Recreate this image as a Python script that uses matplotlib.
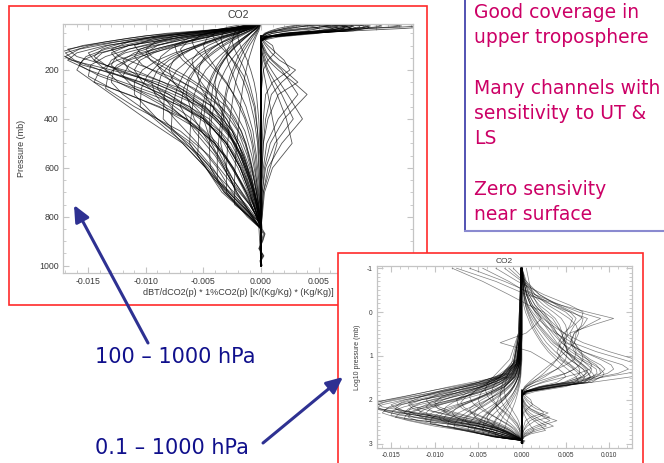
import numpy as np
import matplotlib
matplotlib.use('Agg')
import matplotlib.pyplot as plt
from matplotlib.patches import Rectangle, FancyArrowPatch
from matplotlib.lines import Line2D
from matplotlib.ticker import MultipleLocator, FormatStrFormatter

plt.rcParams['axes.unicode_minus'] = False
plt.rcParams['font.family'] = ['Liberation Sans', 'DejaVu Sans']

# --- data (pressure in mb, sensitivities in units of 1e-3) ---
# tropospheric channels, negative sensitivity
neg_p = [0.1, 3, 15, 30, 50, 70, 100, 130, 160, 200, 250, 300, 400, 500, 600, 700, 800, 850, 1000]
neg_curves = [
    [-0.1, -0.2, -0.7, -2.6, -8.2, -11.5, -15.5, -17.6, -16.5, -13.0, -9.0, -6.5, -3.5, -2.0, -1.2, -0.6, -0.2, 0, 0],
    [-0.1, -0.2, -0.6, -2.2, -7.0, -10.5, -14.8, -17.0, -16.2, -14.0, -10.5, -8.0, -4.5, -2.6, -1.5, -0.8, -0.3, 0, 0],
    [-0.1, -0.2, -0.5, -1.8, -5.5, -9.0, -13.5, -16.0, -16.8, -15.0, -12.0, -9.0, -5.0, -3.0, -1.8, -1.0, -0.3, 0, 0],
    [-0.1, -0.2, -0.5, -1.5, -4.5, -7.5, -11.5, -14.0, -15.5, -16.0, -14.5, -11.5, -6.5, -4.0, -2.4, -1.3, -0.4, 0, 0],
    [-0.1, -0.2, -0.4, -1.2, -3.0, -5.0, -8.0, -10.5, -12.5, -14.0, -14.5, -13.0, -10.0, -6.8, -4.8, -3.4, -1.0, 0, 0],
    [-0.1, -0.2, -0.4, -1.0, -2.5, -4.2, -7.0, -9.5, -11.5, -12.8, -13.0, -12.0, -9.0, -6.0, -4.2, -2.8, -0.8, 0, 0],
    [-0.1, -0.2, -0.3, -0.8, -2.0, -3.5, -5.5, -7.5, -9.0, -10.3, -11.0, -11.0, -9.0, -6.3, -4.4, -3.0, -0.9, 0, 0],
    [-0.1, -0.1, -0.3, -0.6, -1.5, -2.5, -4.0, -5.2, -6.3, -7.3, -8.0, -8.4, -8.5, -6.5, -4.6, -3.1, -1.0, 0, 0],
    [-0.1, -0.1, -0.2, -0.4, -1.0, -1.6, -2.5, -3.3, -4.0, -4.8, -5.4, -5.8, -6.1, -6.2, -4.8, -3.2, -1.0, 0, 0],
    [0, -0.1, -0.1, -0.3, -0.6, -1.0, -1.6, -2.1, -2.6, -3.1, -3.6, -3.9, -4.3, -4.5, -4.4, -3.2, -1.1, 0, 0],
    [0, 0, -0.1, -0.2, -0.4, -0.6, -1.0, -1.3, -1.6, -1.9, -2.2, -2.4, -2.7, -2.9, -3.0, -3.0, -1.2, 0, 0],
    [-0.1, -0.2, -0.6, -2.0, -5.5, -8.5, -11.5, -13.0, -12.5, -11.0, -8.5, -6.5, -3.8, -2.2, -1.3, -0.7, -0.2, 0, 0],
    [-0.1, -0.2, -0.6, -1.8, -4.5, -6.8, -9.0, -10.0, -9.6, -8.5, -6.8, -5.2, -3.0, -1.8, -1.0, -0.5, -0.2, 0, 0],
    [-0.1, -0.3, -0.9, -2.5, -4.8, -6.3, -7.5, -7.3, -6.8, -5.8, -4.6, -3.6, -2.2, -1.3, -0.8, -0.4, -0.1, 0, 0],
    [-0.1, -0.3, -1.0, -2.6, -4.0, -4.7, -5.0, -4.8, -4.4, -3.8, -3.0, -2.4, -1.4, -0.8, -0.5, -0.3, -0.1, 0, 0],
    [-0.1, -0.4, -1.2, -2.5, -3.3, -3.5, -3.3, -2.9, -2.5, -2.0, -1.5, -1.1, -0.6, -0.3, -0.2, -0.1, 0, 0, 0],
    [-0.1, -0.2, -0.4, -1.4, -3.8, -6.2, -9.0, -11.0, -12.0, -11.5, -9.8, -8.0, -5.0, -3.0, -1.8, -1.0, -0.3, 0, 0],
    [-0.1, -0.2, -0.4, -1.1, -3.0, -5.0, -7.5, -9.3, -10.5, -11.0, -10.3, -9.0, -6.0, -3.8, -2.4, -1.3, -0.4, 0, 0],
    [-0.1, -0.1, -0.3, -0.9, -2.3, -3.8, -5.5, -6.8, -7.6, -8.0, -7.6, -6.7, -4.8, -3.2, -2.0, -1.1, -0.3, 0, 0],
    [-0.1, -0.1, -0.3, -0.8, -2.0, -3.4, -5.2, -6.8, -8.0, -9.0, -9.5, -9.2, -7.5, -5.5, -3.8, -2.5, -0.8, 0, 0],
    [-0.1, -0.1, -0.3, -0.8, -2.0, -3.2, -4.6, -5.5, -6.0, -5.8, -5.2, -4.4, -3.0, -2.0, -1.2, -0.6, -0.2, 0, 0],
    [0, -0.1, -0.2, -0.5, -1.3, -2.1, -3.2, -4.1, -4.9, -5.7, -6.3, -6.5, -5.8, -4.5, -3.2, -2.1, -0.7, 0, 0],
    [-0.1, -0.2, -0.6, -2.3, -6.5, -9.8, -13.3, -15.0, -14.5, -12.5, -9.5, -7.0, -4.0, -2.3, -1.4, -0.7, -0.2, 0, 0],
    [-0.1, -0.2, -0.4, -1.3, -3.6, -6.0, -9.3, -11.8, -13.0, -13.5, -12.4, -10.3, -6.5, -4.0, -2.5, -1.4, -0.4, 0, 0],
    [-0.1, -0.2, -0.5, -1.6, -4.6, -7.6, -11.5, -13.8, -14.5, -13.5, -11.0, -8.5, -5.0, -3.0, -1.8, -1.0, -0.3, 0, 0],
    [-0.1, -0.3, -0.9, -3.0, -6.5, -9.3, -11.0, -10.5, -9.5, -8.0, -6.0, -4.5, -2.5, -1.4, -0.8, -0.4, -0.1, 0, 0],
    [0, -0.1, -0.2, -0.4, -0.9, -1.4, -2.1, -2.8, -3.3, -3.9, -4.4, -4.7, -5.0, -4.3, -3.2, -2.1, -0.7, 0, 0],
    [0, -0.1, -0.2, -0.4, -0.9, -1.4, -2.1, -2.7, -3.2, -3.7, -4.0, -3.9, -3.2, -2.4, -1.6, -0.9, -0.3, 0, 0],
    [-0.1, -0.4, -1.0, -1.7, -2.0, -2.0, -1.8, -1.5, -1.2, -0.9, -0.6, -0.4, -0.2, -0.1, 0, 0, 0, 0, 0],
    [0, 0, -0.1, -0.2, -0.5, -0.8, -1.2, -1.6, -1.9, -2.3, -2.7, -3.0, -3.3, -3.5, -3.0, -2.2, -0.8, 0, 0],
]

# more tropospheric channels, on offset levels
neg2_p = [0.1, 3, 12, 25, 40, 60, 85, 115, 145, 180, 225, 275, 350, 450, 550, 650, 750, 830, 1000]
neg2_curves = [
    [-0.1, -0.2, -0.5, -1.8, -5.0, -10.0, -13.5, -16.8, -16.0, -13.5, -10.0, -7.0, -4.2, -2.5, -1.5, -0.8, -0.3, 0, 0],
    [-0.1, -0.2, -0.4, -1.4, -4.0, -8.5, -12.5, -15.8, -17.0, -15.5, -12.0, -8.8, -5.2, -3.0, -1.8, -1.0, -0.4, 0, 0],
    [-0.1, -0.2, -0.4, -1.2, -3.2, -7.0, -10.5, -13.5, -15.2, -15.8, -14.0, -11.0, -6.8, -3.8, -2.3, -1.3, -0.5, 0, 0],
    [-0.1, -0.1, -0.3, -1.0, -2.6, -5.5, -8.5, -11.5, -13.5, -14.8, -15.0, -13.0, -8.8, -5.2, -3.2, -1.9, -0.7, 0, 0],
    [-0.1, -0.1, -0.3, -0.8, -2.0, -4.2, -6.8, -9.2, -11.0, -12.5, -13.3, -13.5, -11.0, -7.0, -4.5, -2.8, -1.0, 0, 0],
    [0, -0.1, -0.2, -0.6, -1.5, -3.0, -4.8, -6.5, -7.8, -9.0, -9.9, -10.4, -10.5, -8.0, -5.3, -3.4, -1.3, 0, 0],
    [0, -0.1, -0.2, -0.5, -1.1, -2.1, -3.3, -4.4, -5.3, -6.1, -6.8, -7.3, -7.7, -7.8, -5.8, -3.8, -1.5, 0, 0],
    [0, 0, -0.1, -0.3, -0.7, -1.3, -2.0, -2.7, -3.3, -3.8, -4.3, -4.7, -5.1, -5.4, -5.5, -4.0, -1.7, 0, 0],
    [0, 0, -0.1, -0.2, -0.4, -0.8, -1.2, -1.6, -2.0, -2.3, -2.7, -3.0, -3.3, -3.6, -3.8, -3.8, -1.8, 0, 0],
    [0, 0, 0, -0.1, -0.2, -0.4, -0.6, -0.8, -1.0, -1.2, -1.4, -1.6, -1.8, -2.0, -2.2, -2.3, -2.3, -0.2, 0],
    [-0.1, -0.2, -0.6, -2.0, -5.0, -9.0, -11.5, -13.0, -12.3, -10.5, -8.0, -5.8, -3.5, -2.0, -1.2, -0.6, -0.2, 0, 0],
    [-0.1, -0.2, -0.5, -1.5, -3.6, -6.6, -8.8, -10.5, -11.0, -10.3, -8.5, -6.6, -4.2, -2.5, -1.5, -0.8, -0.3, 0, 0],
    [-0.1, -0.1, -0.4, -1.1, -2.6, -4.8, -6.5, -7.9, -8.7, -9.0, -8.3, -7.0, -4.8, -2.9, -1.7, -0.9, -0.3, 0, 0],
    [-0.1, -0.1, -0.3, -0.9, -2.3, -4.4, -6.6, -8.8, -10.4, -11.5, -12.0, -11.0, -8.0, -5.0, -3.1, -1.8, -0.6, 0, 0],
    [-0.1, -0.3, -0.9, -2.2, -3.8, -5.3, -6.0, -5.7, -5.1, -4.4, -3.5, -2.7, -1.7, -0.9, -0.5, -0.3, -0.1, 0, 0],
    [-0.1, -0.2, -0.7, -1.8, -3.4, -5.2, -6.4, -7.0, -6.7, -6.0, -4.9, -3.9, -2.5, -1.4, -0.8, -0.4, -0.1, 0, 0],
    [0, -0.1, -0.2, -0.6, -1.4, -2.4, -3.4, -4.3, -4.9, -5.3, -5.5, -5.2, -4.2, -2.9, -1.8, -1.0, -0.3, 0, 0],
    [0, -0.1, -0.2, -0.4, -1.0, -1.9, -2.9, -3.9, -4.7, -5.5, -6.2, -6.7, -7.0, -5.8, -4.0, -2.6, -1.0, 0, 0],
    [-0.1, -0.2, -0.5, -1.0, -1.6, -2.2, -2.6, -2.9, -3.0, -2.8, -2.4, -2.0, -1.3, -0.7, -0.4, -0.2, -0.1, 0, 0],
    [0, -0.1, -0.3, -0.7, -1.7, -3.1, -4.6, -6.0, -7.1, -8.0, -8.7, -9.0, -7.8, -5.5, -3.7, -2.4, -0.9, 0, 0],
    [-0.1, -0.4, -1.4, -2.9, -3.9, -4.2, -3.9, -3.3, -2.7, -2.1, -1.5, -1.1, -0.6, -0.3, -0.2, -0.1, 0, 0, 0],
    [-0.1, -0.2, -0.4, -1.2, -3.0, -6.0, -9.0, -11.5, -12.6, -13.0, -12.0, -9.8, -6.2, -3.6, -2.2, -1.2, -0.4, 0, 0],
    [-0.1, -0.2, -0.5, -1.6, -4.2, -8.3, -11.7, -13.8, -14.5, -13.5, -10.8, -8.2, -4.9, -2.8, -1.7, -0.9, -0.3, 0, 0],
    [-0.1, -0.2, -0.6, -1.9, -4.3, -7.3, -9.2, -10.0, -9.5, -8.3, -6.5, -4.9, -3.0, -1.7, -1.0, -0.5, -0.2, 0, 0],
    [0, -0.1, -0.1, -0.3, -0.7, -1.2, -1.9, -2.5, -3.0, -3.5, -3.9, -4.2, -4.4, -4.5, -3.5, -2.4, -1.0, 0, 0],
    [-0.1, -0.3, -0.8, -1.6, -2.2, -2.4, -2.5, -2.3, -2.0, -1.6, -1.2, -0.9, -0.5, -0.3, -0.1, 0, 0, 0, 0],
]

# stratospheric channels, mostly positive
strat_p = [0.1, 0.2, 0.4, 0.7, 1.0, 1.4, 2, 3, 5, 8, 12, 16, 20, 25, 30, 40, 50, 65, 80, 100, 1000]
strat_curves = [
    [-7.5, -3.0, 0.5, 4.5, 7.5, 10.5, 8.0, 5.5, 4.5, 4.0, 4.5, 5.5, 6.0, 5.0, 3.5, 1.5, 0.5, 0, 0, 0, 0],
    [0.5, 0.8, 1.2, 1.8, 2.5, 3.0, 3.5, 4.0, 5.0, 7.0, 9.5, 11.5, 12.2, 11.0, 9.0, 8.0, 4.0, 0.5, 0, 0, 0],
    [0, 0.1, 0.3, 0.6, 1.0, 1.5, 2.0, 2.8, 3.8, 5.0, 6.2, 7.0, 7.6, 8.1, 8.3, 7.5, 4.5, 0.8, 0, 0, 0],
    [0, 0.1, 0.2, 0.5, 0.8, 1.2, 1.7, 2.4, 3.3, 4.5, 5.5, 6.3, 7.0, 7.6, 7.9, 7.2, 4.2, 0.7, 0, 0, 0],
    [-3.0, -0.5, 2.5, 5.5, 7.0, 6.8, 6.0, 5.5, 5.8, 6.2, 6.0, 5.0, 4.0, 3.0, 2.2, 1.0, 0.4, 0, 0, 0, 0],
    [-6.0, -2.0, 1.5, 4.5, 6.5, 9.0, 7.5, 6.0, 5.5, 6.5, 7.5, 8.0, 7.8, 6.5, 5.0, 2.5, 1.0, 0.1, 0, 0, 0],
    [0, 0.3, 0.8, 1.5, 2.2, 2.8, 3.3, 4.0, 5.2, 7.0, 9.0, 10.2, 10.5, 9.8, 8.4, 6.0, 2.6, 0.4, 0, 0, 0],
    [0, 0.2, 0.5, 1.0, 1.6, 2.2, 2.8, 3.5, 4.5, 6.0, 7.5, 8.5, 8.9, 9.0, 8.5, 7.0, 3.5, 0.5, 0, 0, 0],
    [0, 0.3, 0.8, 1.5, 2.2, 3.0, 3.8, 4.8, 6.0, 6.8, 7.0, 6.6, 6.0, 5.0, 4.0, 2.2, 1.0, 0.1, 0, 0, 0],
    [-8.0, -4.5, -1.5, 0.8, 2.5, 3.5, 4.0, 4.5, 5.0, 5.2, 5.0, 4.5, 4.0, 3.2, 2.6, 1.4, 0.6, 0, 0, 0, 0],
    [0, 0.5, 1.5, 3.0, 4.3, 5.4, 6.2, 6.5, 6.0, 5.0, 4.0, 3.2, 2.6, 2.0, 1.5, 0.8, 0.3, 0, 0, 0, 0],
    [0, 0, 0.1, 0.2, 0.4, 0.7, 1.0, 1.5, 2.2, 3.0, 3.9, 4.6, 5.2, 5.8, 6.2, 6.5, 5.0, 1.5, 0, 0, 0],
    [0, 0.1, 0.2, 0.4, 0.7, 1.0, 1.4, 2.0, 2.8, 3.8, 4.8, 5.6, 6.2, 6.8, 7.2, 6.8, 4.2, 1.0, 0, 0, 0],
    [0, 0.1, 0.3, 0.6, 1.0, 1.4, 1.9, 2.6, 3.6, 5.0, 6.6, 7.8, 8.5, 8.6, 8.0, 6.5, 3.0, 0.4, 0, 0, 0],
    [0, 0.2, 0.5, 1.0, 1.6, 2.4, 3.4, 4.8, 7.0, 10.0, 13.0, 14.5, 14.0, 12.0, 9.5, 6.0, 2.0, 0.3, 0, 0, 0],
    [0, 0.1, 0.3, 0.7, 1.2, 1.8, 2.6, 3.8, 5.8, 8.5, 11.5, 13.5, 14.5, 14.0, 12.5, 8.0, 3.5, 0.5, 0, 0, 0],
    [0, 0.2, 0.6, 1.2, 1.8, 2.2, 1.5, 0.5, -2.5, 1.0, 2.5, 3.5, 4.2, 4.8, 5.0, 4.0, 2.0, 0.2, 0, 0, 0],
    [-1.0, 0.5, 2.0, 4.0, 5.5, 6.2, 5.8, 4.8, 4.2, 4.6, 5.4, 6.4, 7.0, 7.3, 7.0, 5.0, 2.2, 0.3, 0, 0, 0],
    [0, 0.2, 0.5, 1.0, 1.5, 2.0, 2.6, 3.2, 4.0, 5.0, 6.0, 6.8, 7.3, 7.6, 7.8, 7.0, 4.0, 0.6, 0, 0, 0],
    [-2.0, 0, 1.5, 3.5, 5.0, 5.8, 5.5, 5.0, 4.8, 5.3, 6.2, 7.0, 7.5, 7.4, 6.8, 5.0, 2.4, 0.3, 0, 0, 0],
    [0, 0.3, 1.0, 2.0, 3.0, 3.8, 4.3, 4.6, 4.8, 5.2, 5.8, 6.3, 6.6, 6.6, 6.2, 4.8, 2.4, 0.3, 0, 0, 0],
    [-4.5, -1.5, 1.0, 3.5, 5.5, 7.5, 7.0, 6.0, 5.6, 6.0, 6.8, 7.5, 8.0, 7.8, 7.2, 5.5, 2.8, 0.4, 0, 0, 0],
    [0, 0.1, 0.2, 0.4, 0.6, 0.9, 1.2, 1.7, 2.4, 3.3, 4.3, 5.2, 5.9, 6.5, 6.8, 6.0, 3.6, 0.6, 0, 0, 0],
    [0, 0.4, 1.2, 2.5, 3.6, 4.5, 5.0, 5.2, 5.0, 4.5, 4.0, 3.5, 3.0, 2.5, 2.0, 1.2, 0.5, 0, 0, 0, 0],
    [0, 0.2, 0.6, 1.2, 1.9, 2.6, 3.2, 3.8, 4.6, 5.6, 7.0, 8.2, 9.0, 9.4, 9.2, 7.5, 4.0, 0.6, 0, 0, 0],
    [-1.5, 0.2, 2.0, 4.2, 5.8, 7.0, 6.8, 6.2, 6.0, 6.6, 7.8, 9.0, 9.5, 9.0, 8.0, 5.5, 2.5, 0.3, 0, 0, 0],
]

# small positive zig-zag channels in the troposphere
zig_p = [60, 80, 100, 130, 160, 200, 250, 300, 400, 500, 600, 700, 850, 1000]
zig_curves = [
    [0, 0, 0.1, 0.3, 0.6, 1.5, 2.8, 4.0, 2.0, 0.8, 0.3, 0.1, 0, 0],
    [0, 0, 0.1, 0.2, 0.4, 0.9, 1.6, 2.3, 3.6, 1.8, 0.6, 0.2, 0, 0],
    [0, 0.2, 0.6, 1.3, 2.0, 2.5, 1.0, 0.4, 0.2, 0.1, 0, 0, 0, 0],
    [0, 0, 0, 0.1, 0.2, 0.5, 0.9, 1.4, 2.2, 2.7, 1.0, 0.3, 0, 0],
    [0, 0.4, 1.0, 1.2, 0.6, 0.2, 0.1, 0, 0, 0, 0, 0, 0, 0],
    [0, 0, 0.2, 0.5, 1.0, 2.0, 3.2, 1.5, 0.6, 0.2, 0.1, 0, 0, 0],
    [0, 0, 0, 0, 0.1, 0.2, 0.4, 0.6, 1.0, 1.4, 0.8, 0.2, 0, 0],
    [0, 0.1, 0.4, 0.9, 1.6, 3.0, 1.8, 0.9, 0.4, 0.2, 0.1, 0, 0, 0],
    [0, 0, 0.1, 0.4, 0.9, 1.8, 2.5, 3.2, 1.5, 0.5, 0.2, 0, 0, 0],
    [0, 0, 0, 0.1, 0.3, 0.6, 1.2, 1.8, 2.8, 1.2, 0.4, 0.1, 0, 0],
]

# near-surface wiggles
sfc_p = [800, 850, 870, 900, 930, 960, 980, 1000]
sfc_curves = [
    [0, 0, 0.3, 0.1, -0.2, 0.2, -0.1, 0],
    [0, 0.1, 0.35, 0.15, -0.15, 0.25, 0.0, 0.1],
    [0, -0.05, 0.2, 0.05, -0.1, 0.15, -0.05, 0],
]

x_ticks = [-0.015, -0.010, -0.005, 0.000, 0.005, 0.010]
left_yticks = [200, 400, 600, 800, 1000]
right_yticks = [-1, 0, 1, 2, 3]

notes = ["Good coverage in", "upper troposphere", "",
         "Many channels with", "sensitivity to UT &", "LS", "",
         "Zero sensivity", "near surface"]
range_labels = ["100 \u2013 1000 hPa", "0.1 \u2013 1000 hPa"]

groups = [(neg_p, neg_curves), (neg2_p, neg2_curves), (strat_p, strat_curves),
          (zig_p, zig_curves), (sfc_p, sfc_curves)]

# --- figure, laid out in pixels of the 664x463 slide ---
W, H = 664, 463
fig = plt.figure(figsize=(W / 100, H / 100), dpi=100)


def box(x0, y0, x1, y1):
    return [x0 / W, 1 - y1 / H, (x1 - x0) / W, (y1 - y0) / H]


def pt(x, y):
    return (x / W, 1 - y / H)


def frame(x0, y0, x1, y1, z):
    l, b, w, h = box(x0, y0, x1, y1)
    fig.add_artist(Rectangle((l, b), w, h, transform=fig.transFigure, facecolor='white',
                             edgecolor='#ff2a2a', lw=1.2, zorder=z))


def style_axes(ax, fs, xminor, yminor):
    for s in ax.spines.values():
        s.set_color('#c4c4c4')
        s.set_linewidth(0.9)
    ax.set_xticks(x_ticks)
    ax.xaxis.set_major_formatter(FormatStrFormatter('%.3f'))
    ax.xaxis.set_minor_locator(MultipleLocator(xminor))
    ax.yaxis.set_minor_locator(MultipleLocator(yminor))
    ax.tick_params(which='both', direction='in', top=True, right=True,
                   colors='#c4c4c4', labelcolor='#3a3a3a', labelsize=fs, pad=3)
    ax.tick_params(which='major', length=4, width=0.8)
    ax.tick_params(which='minor', length=2, width=0.6)


# left panel: linear pressure
frame(9, 6, 427, 305, 0.1)
ax1 = fig.add_axes(box(63, 24, 413, 273))
ax1.set_zorder(0.5)
for p, curves in groups:
    for c in curves:
        ax1.plot(np.array(c) * 1e-3, p, color='k', lw=0.6, alpha=0.68)
ax1.set_xlim(-0.0172, 0.0132)
ax1.set_ylim(1030, 12)
ax1.set_yticks(left_yticks)
style_axes(ax1, 6.3, 0.001, 50)
ax1.set_title('CO2', fontsize=7.5, color='#3a3a3a', pad=4)
ax1.set_ylabel('Pressure (mb)', fontsize=6.5, color='#3a3a3a')
ax1.yaxis.set_label_coords(-0.105, 0.5)
ax1.set_xlabel('dBT/dCO2(p) * 1%CO2(p) [K/(Kg/Kg) * (Kg/Kg)]', fontsize=6.5,
               color='#3a3a3a', labelpad=1)

# right panel: log10 pressure
frame(338, 253, 643, 480, 1)
ax2 = fig.add_axes(box(377, 266, 632, 448))
ax2.set_zorder(2)
for p, curves in groups:
    for c in curves:
        ax2.plot(np.array(c) * 1e-3, np.log10(p), color='k', lw=0.5, alpha=0.5)
ax2.set_xlim(-0.0166, 0.0126)
ax2.set_ylim(3.1, -1.05)
ax2.set_yticks(right_yticks)
style_axes(ax2, 4.8, 0.001, 0.1)
ax2.set_title('CO2', fontsize=6, color='#3a3a3a', pad=2)
ax2.set_ylabel('Log10 pressure (mb)', fontsize=5, color='#3a3a3a', labelpad=4)

# notes box on the right
fig.add_artist(Line2D([465 / W, 465 / W], [1.01, 1 - 231 / H], transform=fig.transFigure,
                      color='#3535a5', lw=1.2, zorder=3))
fig.add_artist(Line2D([465 / W, 1.0], [1 - 231 / H, 1 - 231 / H], transform=fig.transFigure,
                      color='#8a8ad0', lw=1.5, zorder=3))
for i, line in enumerate(notes):
    fig.text(474 / W, 1 - (18 + 25.3 * i) / H, line, fontsize=13.5, color='#cc0066',
             family='DejaVu Sans', va='baseline', ha='left', zorder=4)

# range labels and arrows
fig.text(95 / W, 1 - 363 / H, range_labels[0], fontsize=15, color='#10108c',
         family='DejaVu Sans', va='baseline', zorder=4)
fig.text(95 / W, 1 - 454 / H, range_labels[1], fontsize=15, color='#10108c',
         family='DejaVu Sans', va='baseline', zorder=4)
for tail, tip in [((148, 343), (74, 205)), ((263, 443), (343, 377))]:
    fig.add_artist(FancyArrowPatch(pt(*tail), pt(*tip), transform=fig.transFigure,
                                   arrowstyle='-|>,head_length=0.55,head_width=0.25',
                                   mutation_scale=18, color='#2e3192', lw=2.2,
                                   shrinkA=0, shrinkB=0, zorder=5))

fig.savefig('out.png', dpi=100)
